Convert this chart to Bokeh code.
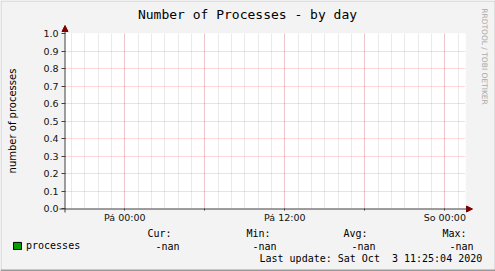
import math
from bokeh.plotting import figure
from bokeh.layouts import column
from bokeh.models import (Range1d, FixedTicker, Label, Arrow, NormalHead,
                          Legend, LegendItem, PrintfTickFormatter)
from bokeh.embed import file_html
from bokeh.resources import INLINE

NAN = float("nan")

# ---- data (time in hours relative to Friday "Pá" 00:00) ----
sample_hours = [-4.0, 0.0, 6.0, 12.0, 18.0, 24.0]
processes = [NAN, NAN, NAN, NAN, NAN, NAN]

x_start, x_end = -4.45, 25.55
label_hours = [0, 12, 24]
label_texts = ["Pá 00:00", "Pá 12:00", "So 00:00"]
major_grid_hours = [0, 6, 12, 18, 24]
minor_grid_hours = [-4, -3, -2, -1, 0, 1, 2, 3, 4, 5, 6, 7, 8, 9, 10, 11, 12,
                    13, 14, 15, 16, 17, 18, 19, 20, 21, 22, 23, 24, 25]
y_ticks = [0.0, 0.1, 0.2, 0.3, 0.4, 0.5, 0.6, 0.7, 0.8, 0.9, 1.0]

series_name = "processes"
stat_heads = ["Cur:", "Min:", "Avg:", "Max:"]
stat_values = ["-nan", "-nan", "-nan", "-nan"]
title_text = "Number of Processes - by day"
y_title = "number of processes"
last_update = "Last update: Sat Oct\u00a0 3 11:25:04 2020"
watermark = "RRDTOOL / TOBI OETIKER"

# ---- layout ----
W, H = 495, 271
FL, FR, FT, FB = 65, 465, 33, 208   # chart frame in canvas px
AX = "#404040"
ARROW = "#800000"
MONO = "DejaVu Sans Mono"
SANS = "DejaVu Sans"

# ===== chart figure (axes, grid, data) =====
p = figure(width=W, height=H, x_range=Range1d(x_start, x_end), y_range=Range1d(0, 1),
           output_backend="svg", toolbar_location=None,
           min_border_left=FL, min_border_right=W - FR, min_border_top=FT,
           min_border_bottom=H - FB,
           background_fill_color="white", border_fill_color="#F3F3F3",
           outline_line_color=None)
p.frame_align = False

xa = p.xaxis[0]
xa.ticker = FixedTicker(ticks=major_grid_hours)
overrides = {h: "" for h in major_grid_hours}
for h, t in zip(label_hours, label_texts):
    overrides[h] = t
xa.major_label_overrides = overrides
xa.axis_line_color = None
xa.major_tick_line_color = AX
xa.major_tick_out = 2
xa.major_tick_in = 0
xa.minor_tick_out = 0
xa.minor_tick_in = 0
xa.major_label_standoff = 1
xa.major_label_text_font = SANS
xa.major_label_text_font_size = "9.5px"
xa.major_label_text_color = "#111111"

ya = p.yaxis[0]
ya.ticker = FixedTicker(ticks=y_ticks)
ya.formatter = PrintfTickFormatter(format="%.1f")
ya.axis_line_color = None
ya.major_tick_line_color = AX
ya.major_tick_out = 4
ya.major_tick_in = 0
ya.minor_tick_out = 0
ya.minor_tick_in = 0
ya.major_label_standoff = 3
ya.major_label_text_font = SANS
ya.major_label_text_font_size = "9.5px"
ya.major_label_text_color = "#111111"

p.xgrid.ticker = FixedTicker(ticks=major_grid_hours, minor_ticks=minor_grid_hours)
p.xgrid.grid_line_color = "#ff0000"
p.xgrid.grid_line_alpha = 0.3
p.xgrid.grid_line_dash = "1 1"
p.xgrid.minor_grid_line_color = "#808080"
p.xgrid.minor_grid_line_alpha = 0.33
p.xgrid.minor_grid_line_dash = "1 1"
p.ygrid.ticker = FixedTicker(ticks=y_ticks)
p.ygrid.grid_line_color = "#ff0000"
p.ygrid.grid_line_alpha = 0.3
p.ygrid.grid_line_dash = "1 1"

# data (all NaN -> nothing drawn)
p.line(sample_hours, processes, line_color="#00A000", line_width=2)

# ===== decoration overlay (canvas pixel coordinates) =====
d = figure(width=W, height=H, x_range=Range1d(0, W), y_range=Range1d(H, 0),
           output_backend="svg", toolbar_location=None, x_axis_type=None,
           y_axis_type=None, min_border=0, outline_line_color=None,
           background_fill_alpha=0, border_fill_alpha=0)
d.frame_align = False
d.xgrid.visible = False
d.ygrid.visible = False
d.styles = {"position": "absolute", "top": "0px", "left": "0px"}

key_r = d.vbar(x=sample_hours, top=processes, width=1 / 12, fill_color="#00A000",
               line_color="black")
legend = Legend(items=[LegendItem(label=series_name, renderers=[key_r])],
                location=(12, H - 250.5), glyph_width=10, glyph_height=9,
                label_height=9, padding=0, margin=0, spacing=0, label_standoff=4,
                border_line_color=None, background_fill_alpha=0,
                label_text_font=MONO, label_text_font_size="10px",
                label_text_color="black")
d.add_layout(legend, "center")

# axes lines with arrows
d.add_layout(Arrow(end=NormalHead(size=6, fill_color=ARROW, line_color=ARROW),
                   x_start=59, y_start=FB + 0.5, x_end=472, y_end=FB + 0.5,
                   line_color=AX, line_width=1))
d.add_layout(Arrow(end=NormalHead(size=6, fill_color=ARROW, line_color=ARROW),
                   x_start=FL - 0.5, y_start=212, x_end=FL - 0.5, y_end=25,
                   line_color=AX, line_width=1))

# image border (shade)
for (xs, ys, xe, ye, c) in [(0, 0.5, W, 0.5, "#CBCBCB"),
                            (0.5, 0, 0.5, H, "#CBCBCB"),
                            (W - 0.5, 0, W - 0.5, H, "#CBCBCB"),
                            (0, H - 1, W, H - 1, "#9B9B9B")]:
    d.add_layout(Arrow(end=None, x_start=xs, y_start=ys, x_end=xe, y_end=ye,
                       line_color=c, line_width=2 if c == "#9B9B9B" else 1))

# texts
d.add_layout(Label(x=247, y=13.5, text=title_text, text_align="center",
                   text_baseline="middle", text_font=MONO, text_font_size="13px",
                   text_color="black"))
d.add_layout(Label(x=12, y=120.5, text=y_title, angle=math.pi / 2,
                   text_align="center", text_baseline="middle", text_font=SANS,
                   text_font_size="10px", text_color="black"))
d.add_layout(Label(x=484, y=56, text=watermark, angle=-math.pi / 2,
                   text_align="center", text_baseline="middle", text_font=SANS,
                   text_font_size="7.5px", text_color="#A8A8A8"))

head_x = [147, 246, 343, 442]
val_x = [155, 252, 351, 449]
for hx, t in zip(head_x, stat_heads):
    d.add_layout(Label(x=hx, y=233, text=t, text_align="left",
                       text_baseline="middle", text_font=MONO, text_font_size="10px",
                       text_color="black"))
for vx, t in zip(val_x, stat_values):
    d.add_layout(Label(x=vx, y=245.5, text=t, text_align="left",
                       text_baseline="middle", text_font=MONO, text_font_size="10px",
                       text_color="black"))
d.add_layout(Label(x=259, y=257.5, text=last_update, text_align="left",
                   text_baseline="middle", text_font=MONO, text_font_size="10px",
                   text_color="black"))

layout = column(p, d, spacing=0)
open("out.html", "w").write(file_html(layout, INLINE))
